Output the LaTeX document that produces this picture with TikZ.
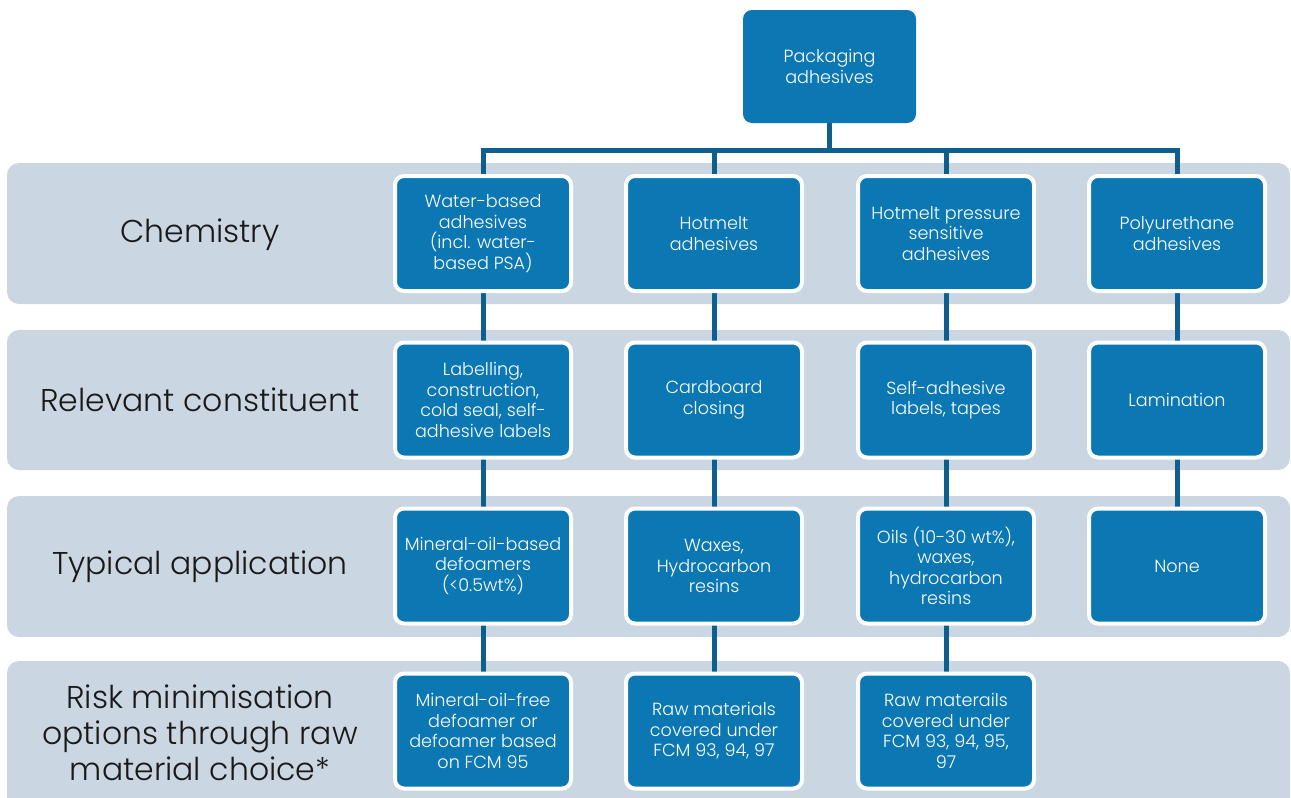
\documentclass[tikz,border=0pt]{standalone}
\usepackage{fontspec}
\setmainfont{Poppins Light}
\definecolor{boxblue}{HTML}{0B77B3}
\definecolor{connblue}{HTML}{0F5F8E}
\definecolor{bandgray}{HTML}{CBD6E3}
\tikzset{
  band/.style={fill=bandgray, rounded corners=12pt},
  cbox/.style={rectangle, rounded corners=9pt, fill=boxblue, draw=white, line width=4pt,
    minimum width=176pt, minimum height=115pt, text=white, align=center,
    font=\fontsize{17.6}{20.5}\selectfont, inner sep=2pt},
  topbox/.style={rectangle, rounded corners=9pt, fill=boxblue, draw=none,
    minimum width=173pt, minimum height=113pt, text=white, align=center,
    font=\fontsize{17.6}{20.5}\selectfont},
  rowlabel/.style={align=center, text=black!90, font=\fontsize{31.5}{36}\selectfont},
  conn/.style={draw=connblue, line width=5pt}
}
\begin{document}
\begin{tikzpicture}[x=1pt,y=-1pt]
\useasboundingbox (0,0) rectangle (1291,798);
\begin{scope}
\clip (0,0) rectangle (1291,798);
\fill[band] (7,163) rectangle (1290,304);
\fill[band] (7,330) rectangle (1290,470);
\fill[band] (7,496) rectangle (1290,637);
\fill[band] (7,661) rectangle (1290,830);
\end{scope}

\node[rowlabel] (l1) at (200,235) {Chemistry};
\node[rowlabel] (l2) at (200,400) {Relevant constituent};
\node[rowlabel] (l3) at (200,567) {Typical application};
\node[rowlabel] (l4) at (200,733) {Risk minimisation\\options through raw\\material choice*};

\node[topbox] (top) at (829.5,66.5) {Packaging\\adhesives};

\coordinate (j) at (829.5,150);
\coordinate (b1) at (483,150);
\coordinate (b2) at (714,150);
\coordinate (b3) at (946,150);
\coordinate (b4) at (1177,150);

% connectors (drawn before boxes)
\draw[conn] (top.south) -- (j);
\draw[conn, line cap=rect] (b1) -- (b4);
\foreach \x in {483,714,946}{
  \draw[conn] (\x,150) -- (\x,731);
}
\draw[conn] (1177,150) -- (1177,566);

% row 1
\node[cbox] (r1c1) at (483,233.5) {Water-based\\adhesives\\(incl. water-\\based PSA)};
\node[cbox] (r1c2) at (714,233.5) {Hotmelt\\adhesives};
\node[cbox] (r1c3) at (946,233.5) {Hotmelt pressure\\sensitive\\adhesives};
\node[cbox] (r1c4) at (1177,233.5) {Polyurethane\\adhesives};
% row 2
\node[cbox] (r2c1) at (483,400) {Labelling,\\construction,\\cold seal, self-\\adhesive labels};
\node[cbox] (r2c2) at (714,400) {Cardboard\\closing};
\node[cbox] (r2c3) at (946,400) {Self-adhesive\\labels, tapes};
\node[cbox] (r2c4) at (1177,400) {Lamination};
% row 3
\node[cbox] (r3c1) at (483,566) {Mineral-oil-based\\defoamers\\(<0.5wt\%)};
\node[cbox] (r3c2) at (714,566) {Waxes,\\Hydrocarbon\\resins};
\node[cbox] (r3c3) at (946,566) {Oils (10-30 wt\%),\\waxes,\\hydrocarbon\\resins};
\node[cbox] (r3c4) at (1177,566) {None};
% row 4
\node[cbox] (r4c1) at (483,731) {Mineral-oil-free\\defoamer or\\defoamer based\\on FCM 95};
\node[cbox] (r4c2) at (714,731) {Raw materials\\covered under\\FCM 93, 94, 97};
\node[cbox] (r4c3) at (946,731) {Raw materails\\covered under\\FCM 93, 94, 95,\\97};
\end{tikzpicture}
\end{document}
